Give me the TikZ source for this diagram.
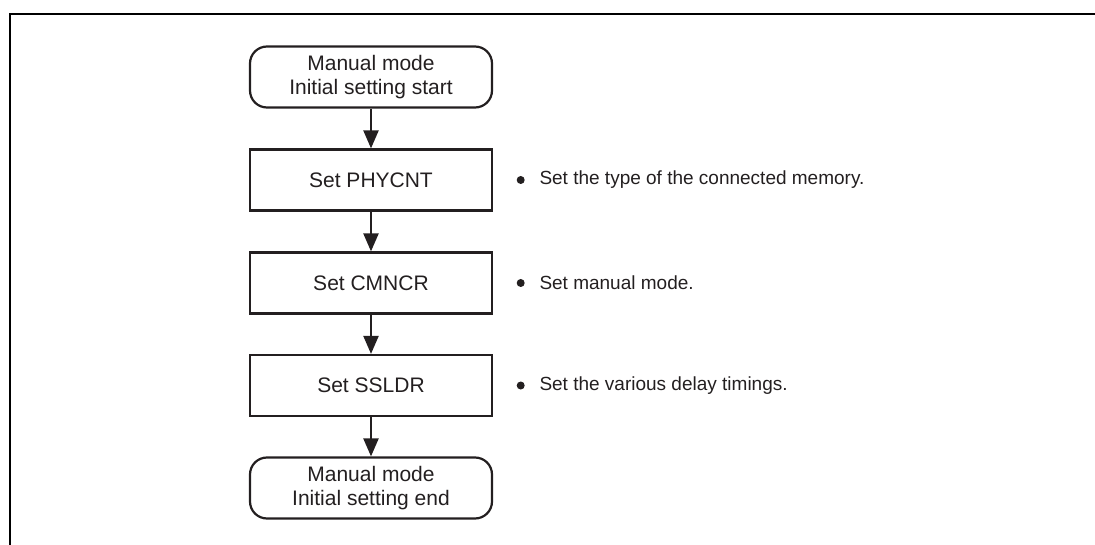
\documentclass[tikz,border=0pt]{standalone}
\usepackage{fontspec}
\setmainfont{Liberation Sans}
\usetikzlibrary{arrows.meta}
\definecolor{ink}{HTML}{231F20}
\begin{document}
\begin{tikzpicture}[x=1pt,y=-1pt,
  procbox/.style={draw=ink, line width=2.2pt, minimum width=242pt, minimum height=61pt,
    inner sep=0pt, text=ink, font=\fontsize{21}{23.3}\selectfont, align=center},
  termbox/.style={procbox, rounded corners=17pt},
  flow/.style={draw=ink, line width=2.2pt, -{Triangle[length=18pt,width=15pt]}},
  dot/.style={circle, fill=ink, inner sep=0pt, minimum size=8pt},
  note/.style={anchor=west, text=ink, font=\fontsize{19}{22}\selectfont, inner sep=0pt}]
\useasboundingbox (0,0) rectangle (1095,545);
\draw[line width=2.4pt, black] (10,545) -- (10,14) -- (1095,14);
\node[termbox] (start) at (371,77) {Manual mode\\Initial setting start};
\node[procbox] (phy) at (371,180) {Set PHYCNT};
\node[procbox] (cmn) at (371,283) {Set CMNCR};
\node[procbox] (ssl) at (371,385.5) {Set SSLDR};
\node[termbox] (end) at (371,488) {Manual mode\\Initial setting end};
\draw[flow] (start) -- (phy);
\draw[flow] (phy) -- (cmn);
\draw[flow] (cmn) -- (ssl);
\draw[flow] (ssl) -- (end);
\node[dot] (b1) at (520.7,180) {};
\node[dot] (b2) at (520.7,283) {};
\node[dot] (b3) at (520.7,385.5) {};
\node[note] (n1) at (539.3,180) {Set the type of the connected memory.};
\node[note] (n2) at (539.3,283) {Set manual mode.};
\node[note] (n3) at (539.3,385.5) {Set the various delay timings.};
\end{tikzpicture}
\end{document}
